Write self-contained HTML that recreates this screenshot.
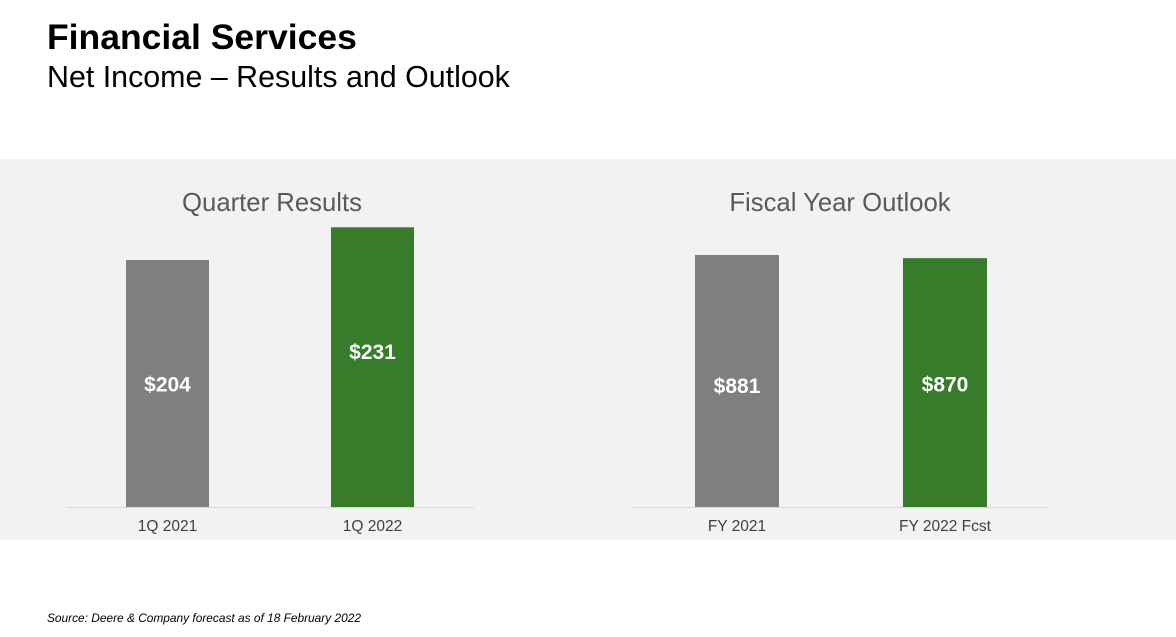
<!DOCTYPE html>
<html><head><meta charset="utf-8"><style>
body{margin:0;width:1176px;height:637px;background:#fff;font-family:"Liberation Sans",Arial,sans-serif;overflow:hidden;position:relative}
</style></head><body>
<div style="position:absolute;left:47px;top:16px;font-size:35.5px;font-weight:bold;color:#000;line-height:42px">Financial Services</div>
<div style="position:absolute;left:47px;top:59px;font-size:30.4px;color:#000;line-height:36px">Net Income – Results and Outlook</div>
<svg id="chart" width="1176" height="381" style="position:absolute;left:0;top:159px" xmlns="http://www.w3.org/2000/svg">
<rect width="1176" height="381" fill="#f2f2f2"/>
</svg>
<div style="position:absolute;left:47px;top:611px;font-size:11.9px;font-style:italic;color:#000">Source: Deere &amp; Company forecast as of 18 February 2022</div>
<script>
const quarterCategories=["1Q 2021","1Q 2022"];
const quarterValues=[204,231];
const quarterLabels=["$204","$231"];
const fyCategories=["FY 2021","FY 2022 Fcst"];
const fyValues=[881,870];
const fyLabels=["$881","$870"];
const colors=["#7f7f7f","#367c2b"];
const svg=document.getElementById('chart');
const NS="http://www.w3.org/2000/svg";
const base=348;
function mk(t,a){const e=document.createElementNS(NS,t);for(const k in a)e.setAttribute(k,a[k]);svg.appendChild(e);return e;}
function drawChart(title,titleX,axisX0,axisX1,barXs,barW,cats,vals,labels,scale,prefix,labelOffsets){
  const t=mk('text',{x:titleX,y:52,'text-anchor':'middle','font-size':25.7,fill:'#595959','font-family':'Liberation Sans, sans-serif'});
  t.textContent=title;
  
  
  const ax=mk('line',{x1:axisX0,x2:axisX1,y1:base+0.5,y2:base+0.5,stroke:'#d9d9d9','stroke-width':1});
  
  
  vals.forEach((v,i)=>{
    const h=v*scale;
    const r=mk('rect',{x:barXs[i],y:base-h,width:barW,height:h,fill:colors[i]});
    
    
    const lb=mk('text',{x:barXs[i]+barW/2,y:base-h/2+8+labelOffsets[i],'text-anchor':'middle','font-size':21,'font-weight':'bold',fill:'#fff','font-family':'Liberation Sans, sans-serif'});
    lb.textContent=labels[i];
    
    
    const c=mk('text',{x:barXs[i]+barW/2,y:372,'text-anchor':'middle','font-size':15.5,fill:'#404040','font-family':'Liberation Sans, sans-serif'});
    c.textContent=cats[i];
    
    
  });
}
drawChart("Quarter Results",272,66,474,[126,331],83,quarterCategories,quarterValues,quarterLabels,247/204,'quarter',[0,-16]);
drawChart("Fiscal Year Outlook",840,632,1049,[695,903],84,fyCategories,fyValues,fyLabels,252/881,'fiscal-year',[4,1]);
</script>
</body></html>
